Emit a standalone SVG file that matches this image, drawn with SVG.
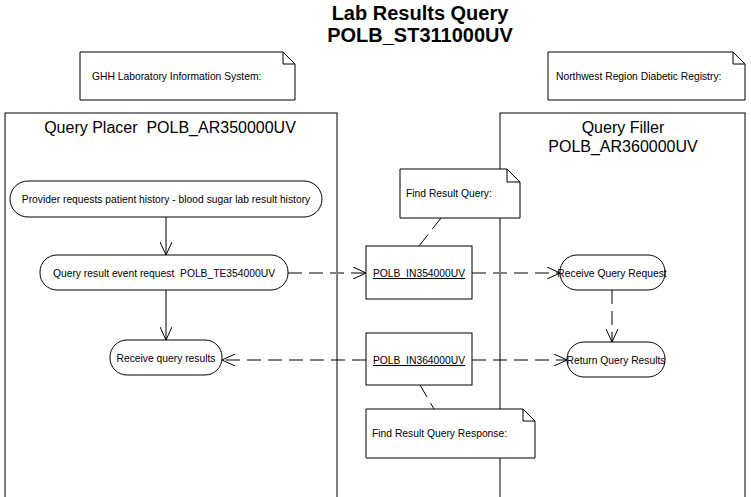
<svg xmlns="http://www.w3.org/2000/svg" width="751" height="497" viewBox="0 0 751 497">
<style>
text{font-family:"Liberation Sans",Arial,sans-serif;fill:#000;white-space:pre}
.n{font-size:10.3px}
.h{font-size:16px}
.t{font-size:20px;font-weight:bold}
.s{fill:#fff;stroke:#000;stroke-width:1}
.d{fill:none;stroke:#000;stroke-dasharray:14 7}
.g{fill:none;stroke:#808080;stroke-width:2;stroke-dasharray:14 7}
.a{fill:none;stroke:#000}
</style>
<defs>
<marker id="ar" markerWidth="14" markerHeight="12" refX="13" refY="6" orient="auto" markerUnits="userSpaceOnUse"><path d="M0,0 L13,6 L0,12" fill="none" stroke="#000"/></marker>
</defs>
<rect width="751" height="497" fill="#fff"/>
<text class="t" x="420" y="20" text-anchor="middle">Lab Results Query</text>
<text class="t" x="420" y="42" text-anchor="middle">POLB_ST311000UV</text>
<g id="note1"><path class="s" d="M80,52 H283 L295,64 V100 H80 Z M283,52 V64 H295"/><text class="n" x="92" y="80">GHH Laboratory Information System:</text></g>
<g id="note2"><path class="s" d="M548,52 H733 L745,64 V100 H548 Z M733,52 V64 H745"/><text class="n" x="556" y="80">Northwest Region Diabetic Registry:</text></g>
<g id="placer"><rect class="s" x="5" y="113" width="332" height="390"/><text class="h" x="170" y="133" text-anchor="middle" xml:space="preserve">Query Placer  POLB_AR350000UV</text></g>
<g id="filler"><rect class="s" x="500" y="113" width="245" height="390"/><text class="h" x="623" y="133" text-anchor="middle">Query Filler</text><text class="h" x="623" y="152" text-anchor="middle">POLB_AR360000UV</text></g>
<g id="connectors">
<path class="a" d="M166,217 V255" marker-end="url(#ar)"/>
<path class="a" d="M166,290 V340" marker-end="url(#ar)"/>
<path class="g" d="M288,273 H366" marker-end="url(#ar)"/>
<path class="g" d="M472,273 H560" marker-end="url(#ar)"/>
<path class="d" d="M366,360 H222" marker-end="url(#ar)"/>
<path class="d" d="M472,360 H567" marker-end="url(#ar)"/>
<path class="d" d="M612,290 V342" marker-end="url(#ar)"/>
<path class="d" d="M441,218 L419,246" stroke-dasharray="7 5"/>
<path class="d" d="M420,385 L434,409" stroke-dasharray="7 5"/>
</g>
<g id="provider"><rect class="s" x="10" y="181" width="312" height="36" rx="18"/><text class="n" x="166" y="203" text-anchor="middle">Provider requests patient history - blood sugar lab result history</text></g>
<g id="qreq"><rect class="s" x="40" y="255" width="248" height="35" rx="17"/><text class="n" x="164" y="277" text-anchor="middle" xml:space="preserve">Query result event request  POLB_TE354000UV</text></g>
<g id="recv"><rect class="s" x="110" y="340" width="112" height="35" rx="17"/><text class="n" x="166" y="362" text-anchor="middle">Receive query results</text></g>
<g id="rqr"><rect class="s" x="560" y="255" width="105" height="35" rx="17"/><text class="n" x="612" y="277" text-anchor="middle">Receive Query Request</text></g>
<g id="rqres"><rect class="s" x="567" y="342" width="98" height="35" rx="17"/><text class="n" x="616" y="364" text-anchor="middle">Return Query Results</text></g>
<g id="in354"><rect class="s" x="366" y="246" width="106" height="53"/><text class="n" x="419" y="277" text-anchor="middle" text-decoration="underline">POLB_IN354000UV</text></g>
<g id="in364"><rect class="s" x="366" y="333" width="106" height="52"/><text class="n" x="419" y="364" text-anchor="middle" text-decoration="underline">POLB_IN364000UV</text></g>
<g id="note3"><path class="s" d="M400,169 H507 L520,182 V218 H400 Z M507,169 V182 H520"/><text class="n" x="406" y="197">Find Result Query:</text></g>
<g id="note4"><path class="s" d="M366,409 H523 L535,421 V458 H366 Z M523,409 V421 H535"/><text class="n" x="372" y="437">Find Result Query Response:</text></g>
</svg>
